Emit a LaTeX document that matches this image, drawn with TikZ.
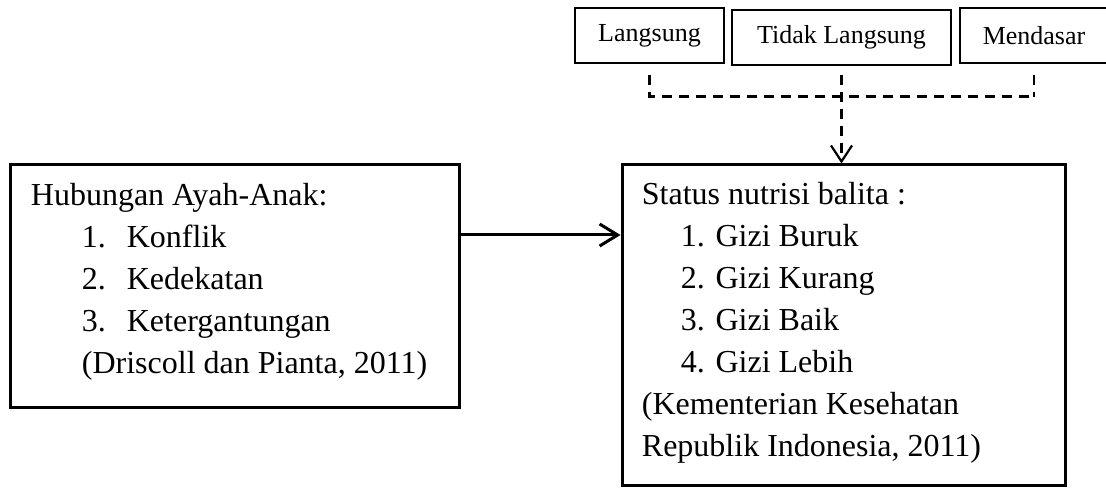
\documentclass[tikz,border=0pt]{standalone}
\usepackage{fontspec}
\setmainfont{Liberation Serif}
\usetikzlibrary{positioning,arrows.meta}
\tikzset{
  factor/.style={draw,line width=0.6pt,inner sep=0pt,font=\fontsize{13}{15}\selectfont},
  mainbox/.style={draw,line width=1.5pt,inner sep=0pt},
  boxtxt/.style={anchor=north west,align=left,inner sep=0pt,font=\fontsize{16}{21}\selectfont},
  dline/.style={line width=1.1pt,dash pattern=on 5pt off 3.5pt},
  vtip/.style={-{Straight Barb[length=8pt,width=10.5pt]}},
  mainarrow/.style={line width=1.5pt,-{Straight Barb[length=9pt,width=11pt]}}
}
\newcommand{\numitem}[2]{\hspace*{25.5pt}\makebox[22.5pt][l]{#1}#2}

\begin{document}
\begin{tikzpicture}[x=0.5pt,y=-0.5pt]
\useasboundingbox (0,0) rectangle (1106,490);
% the three kinds of factors
\node[factor,minimum width=74.5pt,minimum height=27.5pt] (langsung) at (649.5,35.5) {Langsung};
\node[factor,minimum width=109.5pt,minimum height=27.5pt] (tidak) at (841.5,37.5) {Tidak Langsung};
\node[factor,minimum width=74pt,minimum height=27.5pt] (mendasar) at (1034,35.5) {Mendasar};
% main boxes
\node[mainbox,minimum width=224.5pt,minimum height=121.5pt] (ayah) at (234.5,286.5) {};
\node[mainbox,minimum width=221.5pt,minimum height=160.5pt] (gizi) at (843.5,325.5) {};
\node[boxtxt,below right=9.5pt and 11pt of ayah.north west] (ayahtxt) {Hubungan Ayah-Anak:\\
  \numitem{1.}{Konflik}\\
  \numitem{2.}{Kedekatan}\\
  \numitem{3.}{Ketergantungan}\\
  \hspace*{25.5pt}(Driscoll dan Pianta, 2011)};
\node[boxtxt,below right=9pt and 10.5pt of gizi.north west] (gizitxt) {Status nutrisi balita :\\
  \hspace*{19.5pt}1. Gizi Buruk\\
  \hspace*{19.5pt}2. Gizi Kurang\\
  \hspace*{19.5pt}3. Gizi Baik\\
  \hspace*{19.5pt}4. Gizi Lebih\\
  (Kementerian Kesehatan\\
  Republik Indonesia, 2011)};
% dashed links
\coordinate (langd) at ([yshift=-5.5pt]langsung.south);
\coordinate (tidakd) at ([yshift=-4.5pt]tidak.south);
\coordinate (mendd) at ([yshift=-5.5pt]mendasar.south);
\draw[dline] (langd) -- ++(0,22) coordinate (join) -- (join -| mendd);
\draw[dline] (mendd) -- (mendd |- join);
\draw[dline,vtip] (tidakd) -- (tidakd |- gizi.north);
% main relation
\draw[mainarrow] (ayah.east |- 0,235) -- (gizi.west |- 0,235);
\end{tikzpicture}
\end{document}
